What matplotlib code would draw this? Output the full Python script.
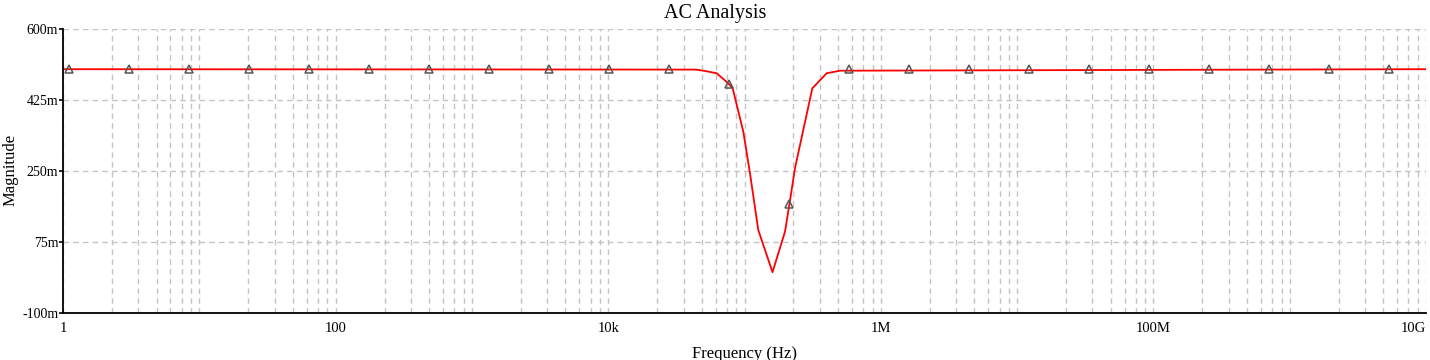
import matplotlib
matplotlib.use('Agg')
import matplotlib.pyplot as plt
import numpy as np

plt.rcParams['font.family'] = ['Liberation Serif', 'DejaVu Serif']

# response curve (Hz, V)
freq = [1, 44060, 51300, 62500, 76000, 81900, 98000, 109700, 126200, 160500,
        198200, 213200, 234800, 314500, 401000, 502000, 1e10]
mag = [0.5, 0.499, 0.4956, 0.490, 0.4653, 0.453, 0.3464, 0.2441, 0.1048, 0.001,
       0.1006, 0.1662, 0.2572, 0.453, 0.490, 0.4963, 0.5]

# trace markers
mark_freq = [1.107, 3.05, 8.404, 23.16, 63.8, 175.8, 484.5, 1335, 3679, 10140,
             27940, 77000, 212100, 584500, 1.611e6, 4.438e6, 1.223e7, 3.37e7,
             9.284e7, 2.559e8, 7.05e8, 1.942e9, 5.35e9]
mark_mag = [0.5] * 11 + [0.4636, 0.1687] + [0.5] * 10

yticks = [-0.1, 0.075, 0.25, 0.425, 0.6]
ylabels = ['-100m', '75m', '250m', '425m', '600m']
xticks = [1, 1e2, 1e4, 1e6, 1e8, 1e10]
xlabels = ['1', '100', '10k', '1M', '100M', '10G']

fig = plt.figure(figsize=(14.3, 3.6), dpi=100)
ax = fig.add_axes([63/1430, 1 - 313.3/360, 1363/1430, 284.8/360])

gcol = '#c4c4c4'
gls = (0, (4, 3))
# grid: decades plus 6 linear subdivisions per decade
for d in range(0, 11):
    ax.axvline(10**d, color=gcol, ls=gls, lw=1, zorder=0)
    if d < 10:
        for k in range(1, 7):
            ax.axvline(10**d * (1 + 9*k/7), color=gcol, ls=gls, lw=1, zorder=0)
for yv in yticks[1:]:
    ax.axhline(yv, color=gcol, ls=gls, lw=1, zorder=0)

ax.plot(freq, mag, color='#ff0000', lw=1.3, zorder=2)
ax.plot(mark_freq, mark_mag, ls='none', marker='^', ms=6, mfc='none',
        mec='#555555', mew=1.1, zorder=3)

ax.set_xscale('log')
ax.set_xlim(1, 1e10)
ax.set_ylim(-0.1, 0.6)
ax.set_xticks(xticks)
ax.set_xticklabels(xlabels)
ax.xaxis.set_minor_locator(matplotlib.ticker.NullLocator())
ax.set_yticks(yticks)
ax.set_yticklabels(ylabels)
ax.tick_params(axis='y', length=3, width=1.2, pad=0.5, labelsize=10)
ax.tick_params(axis='x', length=0, pad=6, labelsize=10.5)
xl = ax.get_xticklabels()
xl[-1].set_horizontalalignment('right')
xl[-1].set_x(1e10)

for s in ['top', 'right']:
    ax.spines[s].set_visible(False)
for s in ['left', 'bottom']:
    ax.spines[s].set_linewidth(1.3)

fig.text(0.5, 0.962, 'AC Analysis', fontsize=14.5, ha='center', va='center')
ax.set_xlabel('Frequency (Hz)', fontsize=12, labelpad=6)
ax.xaxis.set_label_coords(0.5, -0.115)
fig.text(11/1430, 1 - 170/360, 'Magnitude', fontsize=12, rotation=90,
         ha='center', va='center')

fig.savefig('out.png', dpi=100)
